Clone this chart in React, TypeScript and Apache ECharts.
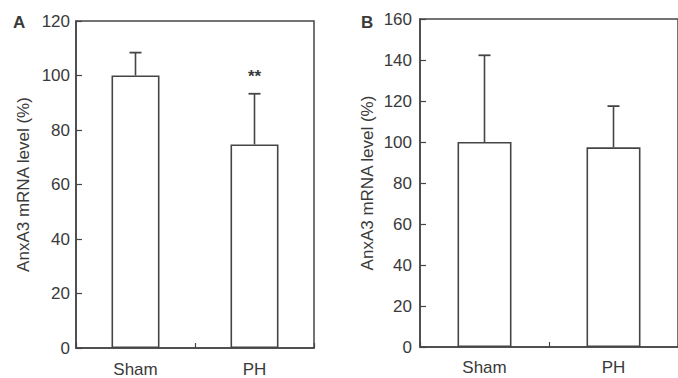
import React, { useEffect, useRef } from "react";
import * as echarts from "echarts";

const categories = ["Sham", "PH"];
const meansA = [100, 74.7];
const upperA = [108.4, 93.3];
const marksA = ["", "**"];
const meansB = [100, 97.4];
const upperB = [142.3, 117.5];
const marksB = ["", ""];
const yName = "AnxA3 mRNA level (%)";

const FONT = "'Liberation Sans', Arial, sans-serif";
const INK = "#3a3a3a";
const LINE = "#454545";

function errSeries(xi: number, means: number[], upper: number[], marks: string[]) {
  return {
    type: "custom",
    xAxisIndex: xi,
    yAxisIndex: xi,
    clip: false,
    z: 5,
    data: means.map((m, i) => [i, m, upper[i], marks[i]]),
    encode: { x: 0, y: [1, 2] },
    renderItem: (params: any, api: any) => {
      const i = api.value(0);
      const base = api.coord([i, api.value(1)]);
      const up = api.coord([i, api.value(2)]);
      const mark = marks[i];
      const children: any[] = [
        { type: "line", shape: { x1: base[0], y1: base[1], x2: up[0], y2: up[1] }, style: { stroke: LINE, lineWidth: 1.6 } },
        { type: "line", shape: { x1: up[0] - 6, y1: up[1], x2: up[0] + 6, y2: up[1] }, style: { stroke: LINE, lineWidth: 1.8 } },
      ];
      if (mark) {
        children.push({
          type: "text",
          style: { text: mark, x: up[0], y: up[1] - 26, align: "center", verticalAlign: "top", fontSize: 17, fontFamily: FONT, fill: INK, fontWeight: "bold" },
        });
      }
      return { type: "group", children };
    },
  };
}

function xAxis(gi: number, margin: number) {
  return {
    type: "category",
    gridIndex: gi,
    data: categories,
    axisLine: { show: true, lineStyle: { color: LINE, width: 1.5 } },
    axisTick: { show: true, inside: true, length: 5, lineStyle: { color: LINE, width: 1.2 } },
    axisLabel: { margin, fontSize: 17, color: INK, fontFamily: FONT },
    splitLine: { show: false },
  };
}

function yAxis(gi: number, max: number, margin: number, gap: number, nameSize: number) {
  return {
    type: "value",
    gridIndex: gi,
    min: 0,
    max,
    interval: 20,
    name: yName,
    nameLocation: "middle",
    nameGap: gap,
    nameTextStyle: { fontSize: nameSize, color: INK, fontFamily: FONT },
    axisLine: { show: true, lineStyle: { color: LINE, width: 1.5 } },
    axisTick: { show: true, inside: true, length: 6, lineStyle: { color: LINE, width: 1.2 } },
    axisLabel: { margin, fontSize: 17, color: INK, fontFamily: FONT },
    splitLine: { show: false },
  };
}

function barSeries(xi: number, data: number[], width: number) {
  return {
    type: "bar",
    xAxisIndex: xi,
    yAxisIndex: xi,
    data,
    barWidth: width,
    itemStyle: { color: "#ffffff", borderColor: LINE, borderWidth: 1.6 },
    z: 3,
  };
}

export default function App() {
  const ref = useRef<HTMLDivElement>(null);
  useEffect(() => {
    if (!ref.current) return;
    const chart = echarts.init(ref.current, undefined, { renderer: "svg" });
    chart.setOption({
      animation: false,
      backgroundColor: "#ffffff",
      grid: [
        { left: 76, top: 21, width: 238, bottom: 27, show: true, borderColor: LINE, borderWidth: 1.5, backgroundColor: "transparent" },
        { left: 420, top: 19, right: -3, bottom: 31, show: true, borderColor: LINE, borderWidth: 1.5, backgroundColor: "transparent" },
      ],
      xAxis: [xAxis(0, 13), xAxis(1, 12)],
      yAxis: [yAxis(0, 120, 6, 44, 17), yAxis(1, 160, 8, 44, 17)],
      graphic: [
        { type: "text", left: 13, top: 14, style: { text: "A", fontSize: 17, fontWeight: "bold", fill: INK, fontFamily: FONT } },
        { type: "text", left: 361, top: 14, style: { text: "B", fontSize: 17, fontWeight: "bold", fill: INK, fontFamily: FONT } },
      ],
      series: [
        barSeries(0, meansA, 48),
        errSeries(0, meansA, upperA, marksA),
        barSeries(1, meansB, 54),
        errSeries(1, meansB, upperB, marksB),
      ],
    });
    return () => chart.dispose();
  }, []);
  return (
    <div
      ref={ref}
      style={{ position: "fixed", left: 0, top: 0, width: 678, height: 378 }}
    />
  );
}
